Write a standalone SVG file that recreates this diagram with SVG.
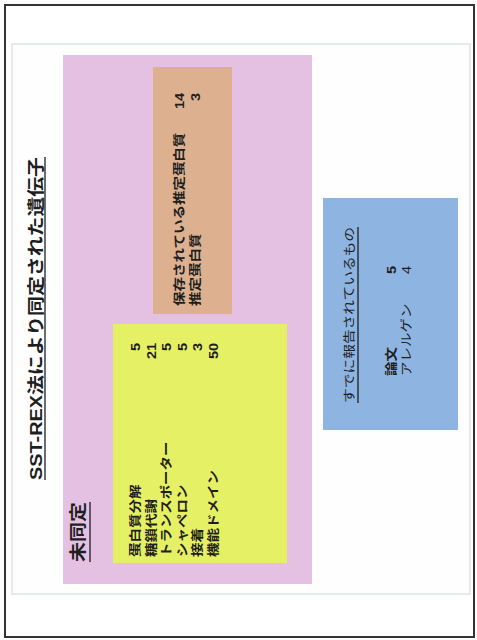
<svg xmlns="http://www.w3.org/2000/svg" width="477" height="640" viewBox="0 0 477 640">
<style>
.t{font-family:"Liberation Sans","Noto Sans CJK JP",sans-serif;fill:#1e1e1e;dominant-baseline:central}
.b{font-weight:bold}
.s{font-size:14.5px}
.big{font-size:20px}
.ul{stroke:#1e1e1e;stroke-width:1.3}
</style>
<rect x="0" y="0" width="477" height="640" fill="#fdfdfd"/>
<rect x="5" y="5" width="469" height="632" fill="#ffffff" stroke="#333" stroke-width="2"/>
<rect x="12" y="44" width="458" height="550" fill="#fefefe" stroke="#dfe3e3" stroke-width="1.5"/>
<g id="title">
<text class="t big b" transform="translate(36,480) rotate(-90) scale(1,0.85)" textLength="323" lengthAdjust="spacingAndGlyphs">SST-REX法により同定された遺伝子</text>
<line class="ul" x1="45" y1="157" x2="45" y2="480"/>
</g>
<g id="unidentified">
<rect x="63" y="55" width="249" height="529" fill="#e4c0e2"/>
<text class="t big b" transform="translate(78,562) rotate(-90) scale(1,0.85)">未同定</text>
<line class="ul" x1="90" y1="502" x2="90" y2="562"/>
</g>
<g id="putative">
<rect x="153" y="67" width="79" height="247" fill="#ddb18f"/>
<text class="t s b" transform="translate(180,306) rotate(-90) scale(1,0.85)">保存されている推定蛋白質</text>
<text class="t s b" text-anchor="end" transform="translate(180,93) rotate(-90) scale(1,0.85)">14</text>
<text class="t s b" transform="translate(196,306) rotate(-90) scale(1,0.85)">推定蛋白質</text>
<text class="t s b" text-anchor="end" transform="translate(196,93) rotate(-90) scale(1,0.85)">3</text>
</g>
<g id="categories">
<rect x="113" y="324" width="174" height="239" fill="#e6f064"/>
<text class="t s b" transform="translate(136,557) rotate(-90) scale(1,0.85)">蛋白質分解</text>
<text class="t s b" text-anchor="end" transform="translate(136,343) rotate(-90) scale(1,0.85)">5</text>
<text class="t s b" transform="translate(151.5,557) rotate(-90) scale(1,0.85)">糖鎖代謝</text>
<text class="t s b" text-anchor="end" transform="translate(151.5,343) rotate(-90) scale(1,0.85)">21</text>
<text class="t s b" transform="translate(167,557) rotate(-90) scale(1,0.85)">トランスポーター</text>
<text class="t s b" text-anchor="end" transform="translate(167,343) rotate(-90) scale(1,0.85)">5</text>
<text class="t s b" transform="translate(182.5,557) rotate(-90) scale(1,0.85)">シャペロン</text>
<text class="t s b" text-anchor="end" transform="translate(182.5,343) rotate(-90) scale(1,0.85)">5</text>
<text class="t s b" transform="translate(198,557) rotate(-90) scale(1,0.85)">接着</text>
<text class="t s b" text-anchor="end" transform="translate(198,343) rotate(-90) scale(1,0.85)">3</text>
<text class="t s b" transform="translate(213.5,557) rotate(-90) scale(1,0.85)">機能ドメイン</text>
<text class="t s b" text-anchor="end" transform="translate(213.5,343) rotate(-90) scale(1,0.85)">50</text>
</g>
<g id="reported">
<rect x="323" y="198" width="135" height="232" fill="#8eb4e2"/>
<text class="t s" transform="translate(350,403) rotate(-90) scale(1,0.85)" textLength="176" lengthAdjust="spacingAndGlyphs">すでに報告されているもの</text>
<line class="ul" x1="358" y1="227" x2="358" y2="403"/>
<text class="t s b" transform="translate(392,376) rotate(-90) scale(1,0.85)">論文</text>
<text class="t s b" text-anchor="end" transform="translate(392,266) rotate(-90) scale(1,0.85)">5</text>
<text class="t s" transform="translate(407,376) rotate(-90) scale(1,0.85)">アレルゲン</text>
<text class="t s" text-anchor="end" transform="translate(407,266) rotate(-90) scale(1,0.85)">4</text>
</g>
<g id="connectors"/>
</svg>
